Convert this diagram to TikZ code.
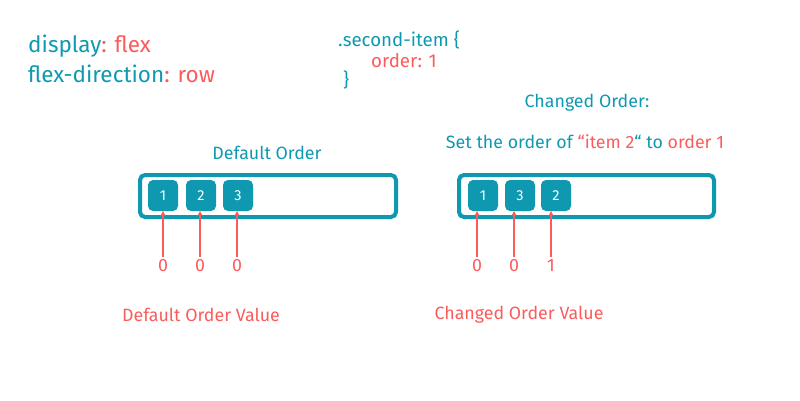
\documentclass[tikz,border=0pt]{standalone}
\usepackage{fontspec}
\setmainfont{Fira Sans}
\usetikzlibrary{arrows.meta}
\definecolor{teal}{HTML}{0F99B0}
\definecolor{myred}{HTML}{FA5C5C}
\begin{document}
\begin{tikzpicture}[x=1pt,y=-1pt,
  lbl/.style={inner sep=0pt, text=teal},
  rlbl/.style={inner sep=0pt, text=myred},
  container/.style={draw=teal, line width=4pt, rounded corners=5pt},
  item/.style={fill=teal, text=white, rounded corners=5pt, minimum width=30pt, minimum height=31pt, inner sep=0pt, font=\fontsize{14.5}{14.5}\selectfont},
  pointer/.style={draw=myred, line width=1.2pt, -{Stealth[length=5pt,width=5pt]}}
]
\useasboundingbox (0,0) rectangle (800,400);
\node[lbl, anchor=west, font=\fontsize{22.5}{22.5}\selectfont] (t1) at (28,46) {display\textcolor{myred}{: flex}};
\node[lbl, anchor=west, font=\fontsize{22.5}{22.5}\selectfont] (t2) at (28,74) {flex-direction\textcolor{myred}{: row}};
\node[lbl, anchor=west, font=\fontsize{18.7}{18.7}\selectfont] (c1) at (338,40) {.second-item \{};
\node[rlbl, anchor=west, font=\fontsize{18.7}{18.7}\selectfont] (c2) at (371,61) {order: 1};
\node[lbl, anchor=west, font=\fontsize{18.7}{18.7}\selectfont] (c3) at (343,80) {\}};
\node[lbl, font=\fontsize{17.8}{17.8}\selectfont] (co) at (587,103) {Changed Order:};
\node[lbl, font=\fontsize{17.8}{17.8}\selectfont] (st) at (585,142) {Set the order of \textcolor{myred}{“item 2}“ to \textcolor{myred}{order 1}};
\node[lbl, font=\fontsize{17.8}{17.8}\selectfont] (do) at (267,153) {Default Order};
% left container
\draw[container] (140,175) rectangle (396,217);
\node[item] (a1) at (163,195.5) {1};
\node[item] (a2) at (201,195.5) {2};
\node[item] (a3) at (238,195.5) {3};
% right container
\draw[container] (459,175) rectangle (714,217);
\node[item] (b1) at (483,195.5) {1};
\node[item] (b3) at (520,195.5) {3};
\node[item] (b2) at (556,195.5) {2};
% values
\tikzset{val/.style={rlbl, font=\fontsize{17.8}{17.8}\selectfont}}
\node[val] (va1) at (163,266) {0};
\node[val] (va2) at (200,266) {0};
\node[val] (va3) at (237,266) {0};
\node[val] (vb1) at (477,266) {0};
\node[val] (vb3) at (514,266) {0};
\node[val] (vb2) at (551,266) {1};
\draw[pointer] (va1.north) ++(0,-3) -- (163,211);
\draw[pointer] (va2.north) ++(0,-3) -- (200,211);
\draw[pointer] (va3.north) ++(0,-3) -- (237,211);
\draw[pointer] (vb1.north) ++(0,-3) -- (477,211);
\draw[pointer] (vb3.north) ++(0,-3) -- (514,211);
\draw[pointer] (vb2.north) ++(0,-3) -- (551,211);
\node[rlbl, font=\fontsize{17.8}{17.8}\selectfont] (dv) at (201,315) {Default Order Value};
\node[rlbl, font=\fontsize{17.8}{17.8}\selectfont] (cv) at (519,315) {Changed Order Value};
\end{tikzpicture}
\end{document}
